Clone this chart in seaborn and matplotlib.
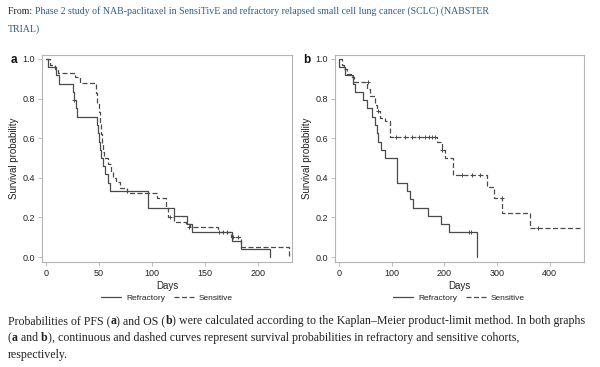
import numpy as np
import pandas as pd
import matplotlib
matplotlib.use("Agg")
import matplotlib.pyplot as plt
from matplotlib.lines import Line2D
import seaborn as sns

# ---------------- data ----------------
# panel a: progression-free survival
pfs_ref_days = [0, 1.5, 9.7, 12, 25.5, 26.5, 28, 29.5, 48, 49, 50, 51, 52.3, 54, 56, 58, 60.7,
                96.2, 120.6, 132.5, 137.8, 175.5, 184, 211]
pfs_ref_surv = [1.0, 0.958, 0.917, 0.875, 0.833, 0.792, 0.75, 0.708, 0.667, 0.625, 0.583, 0.542, 0.5,
                0.458, 0.417, 0.375, 0.333, 0.25, 0.208, 0.167, 0.125, 0.083, 0.042, 0.0]
pfs_sen_days = [0, 4, 8, 11.7, 27.6, 31.7, 47.5, 48.5, 49.5, 50.5, 51.5, 52.5, 53.5, 55, 58, 61, 63.6,
                66, 69.6, 75.9, 104.7, 113.5, 115, 120.6, 132, 135.6, 162, 174, 184, 229]
pfs_sen_surv = [1.0, 0.97, 0.95, 0.93, 0.91, 0.88, 0.83, 0.78, 0.73, 0.68, 0.62, 0.57, 0.53, 0.5, 0.47,
                0.43, 0.4, 0.38, 0.35, 0.325, 0.3, 0.25, 0.2, 0.175, 0.165, 0.15, 0.125, 0.1, 0.05, 0.0]
pfs_ref_cens = [26.8, 163, 167, 171]
pfs_ref_cens_surv = [0.792, 0.125, 0.125, 0.125]
pfs_sen_cens = [117, 135, 176, 181]
pfs_sen_cens_surv = [0.2, 0.15, 0.1, 0.1]

# panel b: overall survival
os_ref_days = [0, 0.5, 11.3, 27, 30.4, 46, 52.5, 62, 68, 71.5, 74.6, 79.7, 87.3, 109.5, 129.7, 134.8,
               140, 168.4, 193.7, 209.5, 261.4]
os_ref_surv = [1.0, 0.958, 0.917, 0.875, 0.833, 0.792, 0.75, 0.708, 0.667, 0.625, 0.583, 0.542, 0.5,
               0.375, 0.333, 0.292, 0.25, 0.208, 0.167, 0.125, 0.0]
os_sen_days = [0, 5, 9.5, 14.6, 24, 28.5, 53.8, 58.9, 68.4, 72, 78, 87.3, 96.8, 186.6, 196, 201, 217,
               280.4, 295, 309, 362.6, 457.6]
os_sen_surv = [1.0, 0.97, 0.95, 0.925, 0.91, 0.885, 0.85, 0.815, 0.77, 0.735, 0.7, 0.685, 0.607, 0.58,
               0.54, 0.5, 0.414, 0.355, 0.296, 0.22, 0.145, 0.145]
os_ref_cens = [247, 251]
os_ref_cens_surv = [0.125, 0.125]
os_sen_cens = [55, 75, 109, 125, 138, 151, 163.5, 170, 176, 182, 196, 233, 252, 268, 309, 378]
os_sen_cens_surv = [0.885, 0.735, 0.607, 0.607, 0.607, 0.607, 0.607, 0.607, 0.607, 0.607, 0.54,
                    0.414, 0.414, 0.414, 0.296, 0.145]

groups = ["Refractory", "Sensitive"]

line_col = "#4a4a4a"
frame_col = "#b4b4b4"
text_col = "#222222"
link_col = "#2c5d8c"

sns.set_style("white")
plt.rcParams['font.family'] = ['Liberation Sans', 'DejaVu Sans']

fig = plt.figure(figsize=(6, 3.67), dpi=100)
ax_a = fig.add_axes([0.07, 0.2861, 0.4167, 0.564])
ax_b = fig.add_axes([0.5583, 0.2861, 0.415, 0.564])


def km_frame(ref_d, ref_s, sen_d, sen_s):
    return pd.concat([
        pd.DataFrame({"Days": ref_d, "Survival": ref_s, "Group": groups[0]}),
        pd.DataFrame({"Days": sen_d, "Survival": sen_s, "Group": groups[1]}),
    ], ignore_index=True)


def draw_panel(ax, df, cens, xlim, xticks, label, label_x):
    sns.lineplot(data=df, x="Days", y="Survival", style="Group",
                 dashes={groups[0]: "", groups[1]: (4, 2)}, color=line_col,
                 drawstyle="steps-post", estimator=None, sort=False,
                 linewidth=0.9, legend=False, ax=ax)
    for cd, cs in cens:
        sns.scatterplot(x=cd, y=cs, marker="+", color=line_col, s=12,
                        linewidth=0.7, legend=False, ax=ax)
    ax.set_xlim(*xlim)
    ax.set_ylim(-0.025, 1.02)
    ax.set_xticks(xticks)
    ax.set_yticks([0.0, 0.2, 0.4, 0.6, 0.8, 1.0])
    ax.set_yticklabels([f"{v:.1f}" for v in [0.0, 0.2, 0.4, 0.6, 0.8, 1.0]])
    ax.tick_params(axis="both", labelsize=6.5, length=3, width=0.6,
                   color=frame_col, labelcolor=text_col, pad=2)
    ax.tick_params(left=True, bottom=True)
    for sp in ax.spines.values():
        sp.set_color(frame_col)
        sp.set_linewidth(0.8)
        sp.set_visible(True)
    ax.set_xlabel("Days", fontsize=7, color=text_col, labelpad=2)
    ax.set_ylabel("Survival probability", fontsize=7, color=text_col, labelpad=2.5)
    fig.text(label_x, 1 - 60 / 367, label, fontsize=8.5, fontweight="bold",
             color="#111111", ha="left", va="center")


pfs = km_frame(pfs_ref_days, pfs_ref_surv, pfs_sen_days, pfs_sen_surv)
os_ = km_frame(os_ref_days, os_ref_surv, os_sen_days, os_sen_surv)

draw_panel(ax_a, pfs, [(pfs_ref_cens, pfs_ref_cens_surv), (pfs_sen_cens, pfs_sen_cens_surv)],
           (-3.8, 232), [0, 50, 100, 150, 200], "a", 11 / 600)
draw_panel(ax_b, os_, [(os_ref_cens, os_ref_cens_surv), (os_sen_cens, os_sen_cens_surv)],
           (-7.6, 465), [0, 100, 200, 300, 400], "b", 303 / 600)

# legends under each panel
handles = [Line2D([], [], color=line_col, lw=0.9, ls="-"),
           Line2D([], [], color=line_col, lw=0.9, ls=(0, (4, 2)))]
for cx in [167 / 600, 459 / 600]:
    fig.legend(handles, groups, loc="center", bbox_to_anchor=(cx, 1 - 298 / 367),
               ncol=2, frameon=False, fontsize=6, handlelength=2.4, columnspacing=1.0,
               handletextpad=0.6, labelcolor=text_col)


# ---------------- header and caption text ----------------
def chain_text(pieces, x, y, size):
    prev = None
    for txt, col, weight in pieces:
        kw = dict(fontsize=size, color=col, fontweight=weight,
                  family="Liberation Serif", ha="left", va="bottom")
        if prev is None:
            prev = fig.text(x, y, txt, **kw)
        else:
            prev = fig.add_artist(matplotlib.text.Annotation(
                txt, xy=(1, 0), xycoords=prev, **kw))


chain_text([("From: ", text_col, "normal"),
            ("Phase 2 study of NAB-paclitaxel in SensiTivE and refractory relapsed small cell "
             "lung cancer (SCLC) (NABSTER", link_col, "normal")], 8 / 600, 1 - 16 / 367, 7.15)
chain_text([("TRIAL)", link_col, "normal")], 8 / 600, 1 - 34 / 367, 7.15)

cap = 8.6
chain_text([("Probabilities of PFS (", text_col, "normal"), ("a", text_col, "bold"),
            (") and OS (", text_col, "normal"), ("b", text_col, "bold"),
            (") were calculated according to the Kaplan\u2013Meier product-limit method. In both graphs",
             text_col, "normal")], 8 / 600, 1 - 327 / 367, cap)
chain_text([("(", text_col, "normal"), ("a", text_col, "bold"), (" and ", text_col, "normal"),
            ("b", text_col, "bold"),
            ("), continuous and dashed curves represent survival probabilities in refractory and "
             "sensitive cohorts,", text_col, "normal")], 8 / 600, 1 - 344 / 367, cap)
chain_text([("respectively.", text_col, "normal")], 8 / 600, 1 - 361 / 367, cap)

fig.savefig("out.png", dpi=100)
